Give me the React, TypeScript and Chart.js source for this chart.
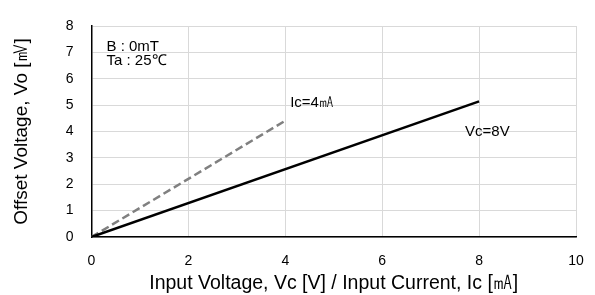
import React, { useEffect, useRef } from "react";
import { Chart, registerables } from "chart.js";

Chart.register(...registerables);

// Data
const vcSeriesX = [0, 8];
const vcSeriesY = [0, 5.14];
const icSeriesX = [0, 4];
const icSeriesY = [0, 4.41];
const xTicks = [0, 2, 4, 6, 8, 10];
const yTicks = [0, 1, 2, 3, 4, 5, 6, 7, 8];
const xTitle = "Input Voltage, Vc [V] / Input Current, Ic [㎃]";
const yTitle = "Offset Voltage, Vo [㎷]";
const conditionLines = ["B : 0mT", "Ta : 25℃"];
const icLabel = { text: "Ic=4㎃", x: 4.1, y: 5.08 };
const vcLabel = { text: "Vc=8V", x: 8.17, y: 4.0 };

const FONT = "'Liberation Sans', Arial, sans-serif";

const annotationPlugin = {
  id: "annots",
  afterDatasetsDraw(chart: any) {
    const { ctx, scales, chartArea } = chart;
    const xs = scales.x;
    const ys = scales.y;
    ctx.save();
    ctx.fillStyle = "#000";
    ctx.font = `15px ${FONT}`;
    ctx.textBaseline = "middle";
    ctx.textAlign = "left";
    conditionLines.forEach((t, i) => {
      ctx.fillText(t, chartArea.left + 15, chartArea.top + 21 + i * 14);
    });
    ctx.fillText(icLabel.text, xs.getPixelForValue(icLabel.x), ys.getPixelForValue(icLabel.y));
    ctx.textAlign = "center";
    ctx.fillText(vcLabel.text, xs.getPixelForValue(vcLabel.x), ys.getPixelForValue(vcLabel.y));
    ctx.restore();
  },
};

export default function App() {
  const ref = useRef<HTMLCanvasElement>(null);
  useEffect(() => {
    document.body.style.margin = "0";
    const chart = new Chart(ref.current!, {
      type: "scatter",
      data: {
        datasets: [
          {
            label: "Vc=8V",
            data: vcSeriesX.map((x, i) => ({ x, y: vcSeriesY[i] })),
            showLine: true,
            borderColor: "#000",
            borderWidth: 2.5,
            pointRadius: 0,
            fill: false,
          },
          {
            label: "Ic=4mA",
            data: icSeriesX.map((x, i) => ({ x, y: icSeriesY[i] })),
            showLine: true,
            borderColor: "#808080",
            borderWidth: 2.5,
            borderDash: [8, 4],
            pointRadius: 0,
            fill: false,
          },
        ],
      },
      options: {
        animation: false,
        responsive: false,
        maintainAspectRatio: false,
        layout: { padding: { top: 26, right: 19, left: 0, bottom: 0 } },
        plugins: { legend: { display: false }, tooltip: { enabled: false } },
        scales: {
          x: {
            type: "linear",
            min: 0,
            max: 10,
            afterBuildTicks: (s: any) => {
              s.ticks = xTicks.map((v) => ({ value: v }));
            },
            afterFit: (s: any) => {
              s.height = 58;
              s.paddingLeft = 0;
              s.paddingRight = 0;
            },
            grid: { color: "#d9d9d9", lineWidth: 1, drawTicks: false },
            border: { color: "#000", width: 1.5 },
            ticks: { color: "#000", font: { family: FONT, size: 14 }, padding: 16 },
            title: {
              display: true,
              text: xTitle,
              color: "#000",
              font: { family: FONT, size: 19.5 },
              padding: { top: 0, bottom: 0 },
            },
          },
          y: {
            type: "linear",
            min: 0,
            max: 8,
            afterBuildTicks: (s: any) => {
              s.ticks = yTicks.map((v) => ({ value: v }));
            },
            afterFit: (s: any) => {
              s.width = 91.5;
              s.paddingTop = 0;
              s.paddingBottom = 0;
            },
            grid: { color: "#d9d9d9", lineWidth: 1, drawTicks: false },
            border: { color: "#000", width: 1.5 },
            ticks: { color: "#000", font: { family: FONT, size: 14 }, padding: 18 },
            title: {
              display: true,
              text: yTitle,
              color: "#000",
              font: { family: FONT, size: 19 },
              padding: { top: 10, bottom: 0 },
            },
          },
        },
      },
      plugins: [annotationPlugin],
    });
    return () => chart.destroy();
  }, []);
  return (
    <div style={{ position: "absolute", left: 0, top: 0, width: 595, height: 295 }}>
      <canvas ref={ref} width={595} height={295} style={{ width: 595, height: 295 }} />
    </div>
  );
}
